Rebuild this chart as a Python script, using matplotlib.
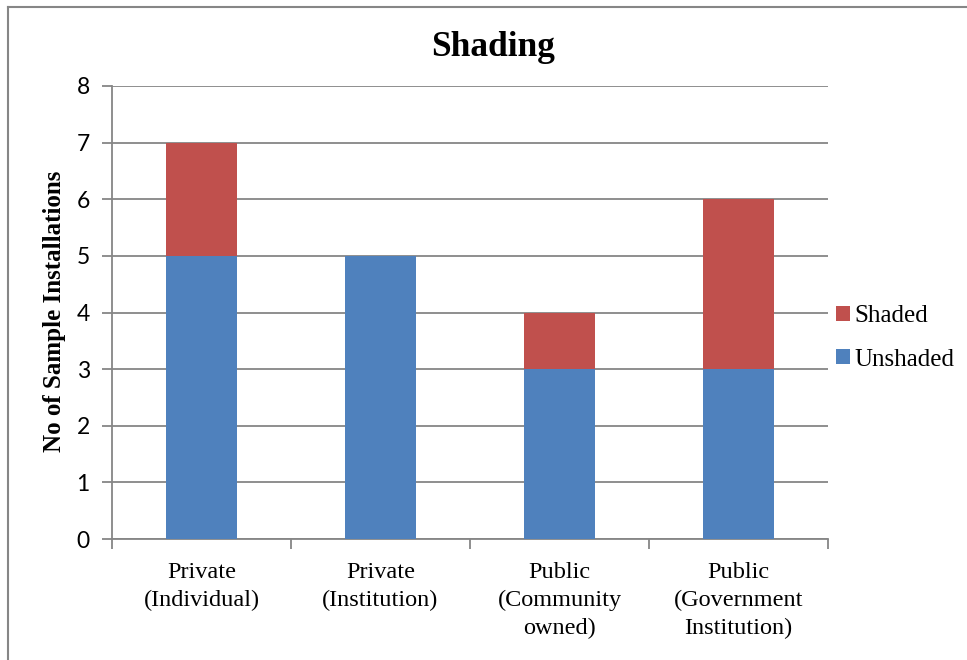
import matplotlib
matplotlib.use("Agg")
import matplotlib.pyplot as plt
import numpy as np
from matplotlib.lines import Line2D

categories = ["Private\n(Individual)", "Private\n(Institution)", "Public\n(Community\nowned)", "Public\n(Government\nInstitution)"]
unshaded = [5, 5, 3, 3]
shaded = [2, 0, 1, 3]
series_names = ["Shaded", "Unshaded"]
yticks = [0, 1, 2, 3, 4, 5, 6, 7, 8]

W, H = 967, 660
fig = plt.figure(figsize=(W / 100, H / 100), dpi=100)
fig.patch.set_facecolor("white")

grid = "#868686"
# outer border (top and left visible; right/bottom outside the image)
fig.add_artist(Line2D([8 / W, 8 / W], [0, 1 - 7 / H], transform=fig.transFigure,
                      color=grid, linewidth=1.5))
fig.add_artist(Line2D([8 / W, 1], [1 - 7 / H, 1 - 7 / H], transform=fig.transFigure,
                      color=grid, linewidth=1.5))

left, right, top, bottom = 112, 828, 86, 539
ax = fig.add_axes([left / W, 1 - bottom / H, (right - left) / W, (bottom - top) / H])

blue = "#4F81BD"
red = "#C0504D"

x = np.arange(len(categories))
ax.bar(x, unshaded, width=0.4, color=blue, zorder=3, label=series_names[1])
ax.bar(x, shaded, width=0.4, bottom=unshaded, color=red, zorder=3, label=series_names[0])

ax.set_xlim(-0.5, len(categories) - 0.5)
ax.set_ylim(0, 8)
ax.set_yticks(yticks)
ax.yaxis.grid(True, color=grid, linewidth=1.3, zorder=0)
ax.set_axisbelow(True)

for s in ["top", "right"]:
    ax.spines[s].set_visible(False)
for s in ["left", "bottom"]:
    ax.spines[s].set_color(grid)
    ax.spines[s].set_linewidth(1.3)

ax.tick_params(axis="y", length=7, color=grid, width=1.3, labelsize=16.5, pad=9)
for lab in ax.get_yticklabels():
    lab.set_fontfamily("Lato")

ax.set_xticks(np.arange(-0.5, len(categories), 1.0))
ax.set_xticklabels([])
ax.tick_params(axis="x", length=7, color=grid, width=1.3)
for i, c in enumerate(categories):
    ax.text(i, 0, c, ha="center", va="top", fontsize=17.5, family="Liberation Serif",
            linespacing=1.43,
            transform=ax.transData + matplotlib.transforms.ScaledTranslation(0, -23 / 100, fig.dpi_scale_trans))

fig.text(493 / W, 1 - 47 / H, "Shading", ha="center", va="center", fontsize=25.5,
         fontweight="bold", family="Liberation Serif")
fig.text(55 / W, 1 - 311 / H, "No of Sample Installations", ha="center", va="center",
         rotation=90, fontsize=18, fontweight="bold", family="Liberation Serif")

handles, labels = ax.get_legend_handles_labels()
leg = fig.legend(handles[::-1], labels[::-1], loc="center left",
                 bbox_to_anchor=(836 / W, 1 - 338 / H), frameon=False,
                 prop={"family": "Liberation Serif", "size": 18},
                 handlelength=0.55, handleheight=0.55, handletextpad=0.2, labelspacing=0.85,
                 borderaxespad=0, borderpad=0)

fig.savefig("out.png", dpi=100)
